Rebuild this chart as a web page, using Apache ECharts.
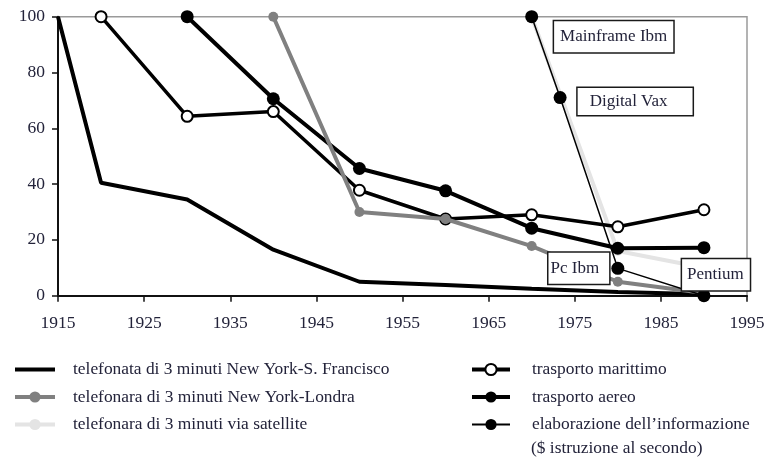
<!DOCTYPE html>
<html>
<head>
<meta charset="utf-8">
<script src="https://cdn.jsdelivr.net/npm/echarts@6/dist/echarts.min.js"></script>
<style>html,body{margin:0;padding:0;background:#fff}#c{width:771px;height:457px}</style>
</head>
<body>
<div id="c"></div>
<script>
// ---- data ----
const xTicks = [1915, 1925, 1935, 1945, 1955, 1965, 1975, 1985, 1995];
const yTicks = [0, 20, 40, 60, 80, 100];

const names = [
  'telefonata di 3 minuti New York-S. Francisco',
  'telefonara di 3 minuti New York-Londra',
  'telefonara di 3 minuti via satellite',
  'trasporto marittimo',
  'trasporto aereo',
  "elaborazione dell\u2019informazione"
];
const secondLine = '($ istruzione al secondo)';

const sfYears = [1915, 1920, 1930, 1940, 1950, 1960, 1970, 1980, 1990];
const sfValues = [100, 40.5, 34.5, 16.5, 5, 3.8, 2.5, 1.3, 0.5];

const londonYears = [1940, 1950, 1960, 1970, 1980, 1990];
const londonValues = [100, 30, 27.5, 17.8, 5, 1];

const satYears = [1970, 1980, 1990];
const satValues = [100, 16, 10];

const seaYears = [1920, 1930, 1940, 1950, 1960, 1970, 1980, 1990];
const seaValues = [100, 64.3, 66, 37.8, 27.5, 29, 24.7, 30.8];

const airYears = [1930, 1940, 1950, 1960, 1970, 1980, 1990];
const airValues = [100, 70.6, 45.6, 37.6, 24.2, 17, 17.2];

const infoYears = [1970, 1973.3, 1980, 1990];
const infoValues = [100, 71, 9.8, 0];
const infoLabels = ['Mainframe Ibm', 'Digital Vax', 'Pc Ibm', 'Pentium'];

// ---- helpers ----
const pair = (xs, ys) => xs.map((x, i) => [x, ys[i]]);
const FONT = '"Liberation Serif", "DejaVu Serif", serif';
const TXT = '#23233a';

const labelStyles = [
  {offset: [82, 20], padding: [7, 6, 7, 6]},
  {offset: [75, 4], padding: [5, 25, 5, 12]},
  {offset: [-39, 0], padding: [7, 10, 7, 2]},
  {offset: [12, -21], padding: [7, 6, 7, 5]}
];

const infoData = infoYears.map((x, i) => ({
  value: [x, infoValues[i]],
  label: {
    show: true,
    position: 'inside',
    formatter: infoLabels[i],
    offset: labelStyles[i].offset,
    padding: labelStyles[i].padding,
    backgroundColor: '#fff',
    borderColor: '#1a1a1a',
    borderWidth: 1.5,
    color: TXT,
    fontFamily: FONT,
    fontSize: 17
  }
}));

const chart = echarts.init(document.getElementById('c'), null, {renderer: 'canvas'});

const barIcon = 'path://M0,0h40v0.01h-40z M0,5h40v4h-40z M0,13.99h40v0.01h-40z';
const legendText = pad => ({color: TXT, fontFamily: FONT, fontSize: 17.4, lineHeight: 25, padding: [0, 0, 0, pad]});

const option = {
  animation: false,
  backgroundColor: '#fff',
  grid: {
    left: 58, right: 24, top: 16.7, bottom: 161.3,
    show: true, borderColor: '#9a9a9a', borderWidth: 1.5, backgroundColor: 'transparent'
  },
  xAxis: {
    type: 'value', min: 1915, max: 1995, interval: 10,
    axisLine: {show: true, lineStyle: {color: '#111', width: 2}},
    axisTick: {show: true, length: 6, lineStyle: {color: '#111', width: 1.5}},
    splitLine: {show: false},
    axisLabel: {
      margin: 19, color: TXT, fontFamily: FONT, fontSize: 17.5,
      formatter: v => xTicks.includes(v) ? String(v) : ''
    }
  },
  yAxis: {
    type: 'value', min: 0, max: 100, interval: 20,
    axisLine: {show: true, lineStyle: {color: '#111', width: 2}},
    axisTick: {show: true, length: 6, lineStyle: {color: '#111', width: 1.5}},
    splitLine: {show: false},
    axisLabel: {
      margin: 13, color: TXT, fontFamily: FONT, fontSize: 17.5,
      formatter: v => yTicks.includes(v) ? String(v) : ''
    }
  },
  legend: [
    {
      data: [
        {name: names[0], icon: barIcon},
        {name: names[1], lineStyle: {width: 4}},
        {name: names[2], lineStyle: {width: 4}}
      ],
      orient: 'vertical', left: 8, top: 352,
      itemWidth: 40, itemHeight: 14, itemGap: 2.5,
      textStyle: legendText(13),
      selectedMode: false
    },
    {
      data: [
        {name: names[3], lineStyle: {width: 4}},
        {name: names[4], lineStyle: {width: 4}},
        {name: names[5], lineStyle: {width: 2}}
      ],
      orient: 'vertical', left: 465, top: 352,
      itemWidth: 38, itemHeight: 14, itemGap: 2.5,
      textStyle: legendText(17),
      selectedMode: false
    }
  ],
  graphic: [
    {
      type: 'text', left: 531, top: 440,
      style: {text: secondLine, fill: TXT, font: '17.4px ' + FONT}
    }
  ],
  series: [
    {
      name: names[0], type: 'line', data: pair(sfYears, sfValues),
      showSymbol: false, symbol: 'none',
      lineStyle: {color: '#000', width: 4}, itemStyle: {color: '#000'}, z: 2
    },
    {
      name: names[2], type: 'line', data: pair(satYears, satValues),
      symbol: 'circle', symbolSize: 10,
      lineStyle: {color: '#e4e4e4', width: 4}, itemStyle: {color: '#e4e4e4'}, z: 2
    },
    {
      name: names[3], type: 'line', data: pair(seaYears, seaValues),
      symbol: 'circle', symbolSize: 11,
      lineStyle: {color: '#000', width: 3.5},
      itemStyle: {color: '#fff', borderColor: '#000', borderWidth: 2}, z: 3
    },
    {
      name: names[4], type: 'line', data: pair(airYears, airValues),
      symbol: 'circle', symbolSize: 13,
      lineStyle: {color: '#000', width: 4}, itemStyle: {color: '#000'}, z: 3
    },
    {
      name: names[1], type: 'line', data: pair(londonYears, londonValues),
      symbol: 'circle', symbolSize: 10,
      lineStyle: {color: '#808080', width: 4}, itemStyle: {color: '#808080'}, z: 4
    },
    {
      name: names[5], type: 'line', data: infoData,
      symbol: 'circle', symbolSize: 13,
      lineStyle: {color: '#000', width: 1.5}, itemStyle: {color: '#000'}, z: 5
    }
  ]
};
chart.setOption(option);
</script>
</body>
</html>
